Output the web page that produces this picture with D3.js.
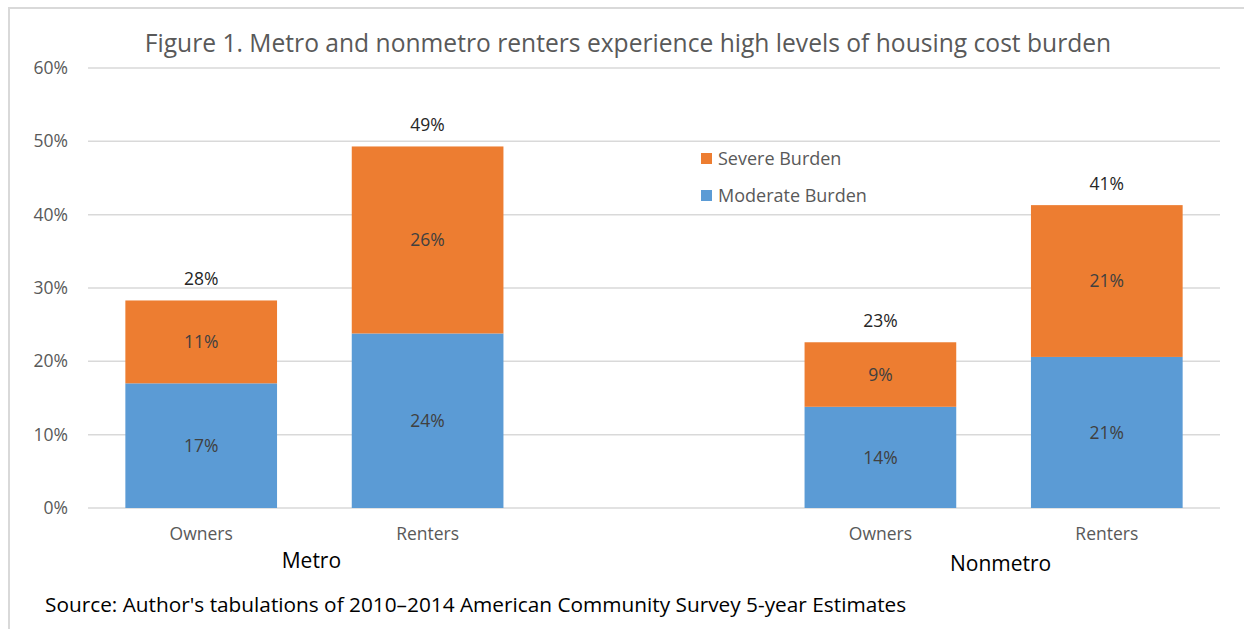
<!DOCTYPE html>
<html>
<head>
<meta charset="utf-8">
<script src="https://cdn.jsdelivr.net/npm/d3@7"></script>
<style>
  body { margin: 0; background: #fff; }
  svg { display: block; font-family: "Open Sans", "Noto Sans", sans-serif; }
</style>
</head>
<body>
<div id="chart"></div>
<script>
// categories, one empty slot between the two groups
var categories = ['Owners', 'Renters', '', 'Owners', 'Renters'];
var slots = ['m-own', 'm-rent', 'gap', 'n-own', 'n-rent'];
var barSlots = ['m-own', 'm-rent', 'n-own', 'n-rent'];
var groups = ['Metro', 'Nonmetro'];
var moderate = [0.170, 0.238, 0.138, 0.206];
var severe = [0.113, 0.255, 0.088, 0.207];
var yTicks = [0, 0.1, 0.2, 0.3, 0.4, 0.5, 0.6];
var seriesNames = ['Severe Burden', 'Moderate Burden'];
var title = 'Figure 1. Metro and nonmetro renters experience high levels of housing cost burden';
var source = "Source: Author's tabulations of 2010\u20132014 American Community Survey 5-year Estimates";

var W = 1244, H = 629;
var margin = {top: 68, right: 24, bottom: 121, left: 88};
var width = W - margin.left - margin.right;
var height = H - margin.top - margin.bottom;

var colors = {moderate: '#5b9bd5', severe: '#ed7d31'};
var fontFamily = '"Open Sans", "Noto Sans", sans-serif';
var fs = 17.5;

var svg = d3.select('#chart').append('svg')
    .attr('width', W)
    .attr('height', H);

// outer frame
svg.append('path')
    .attr('d', 'M9,' + H + 'V8H' + W)
    .attr('fill', 'none')
    .attr('stroke', '#d9d9d9')
    .attr('stroke-width', 2);

var g = svg.append('g')
    .attr('transform', 'translate(' + margin.left + ',' + margin.top + ')');

var x = d3.scaleBand()
    .domain(slots)
    .range([0, width])
    .paddingInner(0.33)
    .paddingOuter(0.165);

var y = d3.scaleLinear()
    .domain([0, 0.6])
    .range([height, 0]);

// gridlines
g.append('g')
    .attr('class', 'grid')
    .selectAll('line')
    .data(yTicks)
    .join('line')
        .attr('x1', 0)
        .attr('x2', width)
        .attr('y1', d => y(d))
        .attr('y2', d => y(d))
        .attr('stroke', '#d9d9d9')
        .attr('stroke-width', 1.5);

// y axis labels
var yAxis = g.append('g')
    .call(d3.axisLeft(y).tickValues(yTicks).tickFormat(d3.format('.0%')).tickSize(0).tickPadding(20))
    .attr('font-family', fontFamily)
    .attr('font-size', fs);
yAxis.select('.domain').remove();
yAxis.selectAll('text')
    .attr('fill', '#595959');

// x axis labels
var xAxis = g.append('g')
    .attr('transform', 'translate(0,' + height + ')')
    .call(d3.axisBottom(x).tickFormat((d, i) => categories[i]).tickSize(0).tickPadding(20))
    .attr('font-family', fontFamily)
    .attr('font-size', fs);
xAxis.select('.domain').remove();
xAxis.selectAll('text')
    .attr('fill', '#595959');

var rows = barSlots.map((s, i) => ({slot: s, moderate: moderate[i], severe: severe[i]}));

// moderate
g.selectAll('.bar-mod')
    .data(rows)
    .join('rect')
        .attr('class', 'bar-mod')
        .attr('x', d => x(d.slot))
        .attr('width', x.bandwidth())
        .attr('y', d => y(d.moderate))
        .attr('height', d => y(0) - y(d.moderate))
        .attr('fill', colors.moderate);

// severe
g.selectAll('.bar-sev')
    .data(rows)
    .join('rect')
        .attr('class', 'bar-sev')
        .attr('x', d => x(d.slot))
        .attr('width', x.bandwidth())
        .attr('y', d => y(d.moderate + d.severe))
        .attr('height', d => y(d.moderate) - y(d.moderate + d.severe))
        .attr('fill', colors.severe);

var pct = v => Math.round(v * 100) + '%';

// segment labels
g.selectAll('.lbl-mod')
    .data(rows)
    .join('text')
        .attr('x', d => x(d.slot) + x.bandwidth() / 2)
        .attr('y', d => y(d.moderate / 2))
        .attr('dy', '0.35em')
        .attr('text-anchor', 'middle')
        .attr('fill', '#404040')
        .style('font-size', fs + 'px')
        .text(d => pct(d.moderate));

g.selectAll('.lbl-sev')
    .data(rows)
    .join('text')
        .attr('x', d => x(d.slot) + x.bandwidth() / 2)
        .attr('y', d => y(d.moderate + d.severe / 2))
        .attr('dy', '0.35em')
        .attr('text-anchor', 'middle')
        .attr('fill', '#404040')
        .style('font-size', fs + 'px')
        .text(d => pct(d.severe));

// totals
g.selectAll('.lbl-tot')
    .data(rows)
    .join('text')
        .attr('x', d => x(d.slot) + x.bandwidth() / 2)
        .attr('y', d => y(d.moderate + d.severe) - 15)
        .attr('text-anchor', 'middle')
        .attr('fill', '#262626')
        .style('font-size', fs + 'px')
        .text(d => pct(d.moderate + d.severe));

// group labels under the axis
var groupPos = [
    (x('m-own') + x('m-rent') + x.bandwidth()) / 2,
    (x('n-own') + x('n-rent') + x.bandwidth()) / 2
];
g.selectAll('.group')
    .data(groups)
    .join('text')
        .attr('x', (d, i) => groupPos[i] - 3 * (1 - i) + 7 * i)
        .attr('y', (d, i) => height + 60 + 3 * i)
        .attr('text-anchor', 'middle')
        .attr('fill', '#000')
        .style('font-size', '21px')
        .text(d => d);

// legend
var legend = svg.append('g')
    .attr('transform', 'translate(701,159)');
var legendColors = [colors.severe, colors.moderate];
var li = legend.selectAll('g')
    .data(seriesNames)
    .join('g')
        .attr('transform', (d, i) => 'translate(0,' + (i * 37) + ')');
li.append('rect')
    .attr('x', 0).attr('y', -6)
    .attr('width', 11).attr('height', 11)
    .attr('fill', (d, i) => legendColors[i]);
li.append('text')
    .attr('x', 17)
    .attr('dy', '0.35em')
    .attr('fill', '#595959')
    .style('font-size', '18px')
    .text(d => d);

// title
var t = svg.append('text')
    .attr('x', 628)
    .attr('y', 52)
    .attr('text-anchor', 'middle')
    .attr('fill', '#595959')
    .style('font-size', '22px')
    .text(title);
t.style('font-size', (22 * 967 / t.node().getComputedTextLength()) + 'px');

// source
var s = svg.append('text')
    .attr('x', 45)
    .attr('y', 612)
    .attr('fill', '#000')
    .style('font-size', '18px')
    .text(source);
s.style('font-size', (18 * 862 / s.node().getComputedTextLength()) + 'px');
</script>
</body>
</html>
